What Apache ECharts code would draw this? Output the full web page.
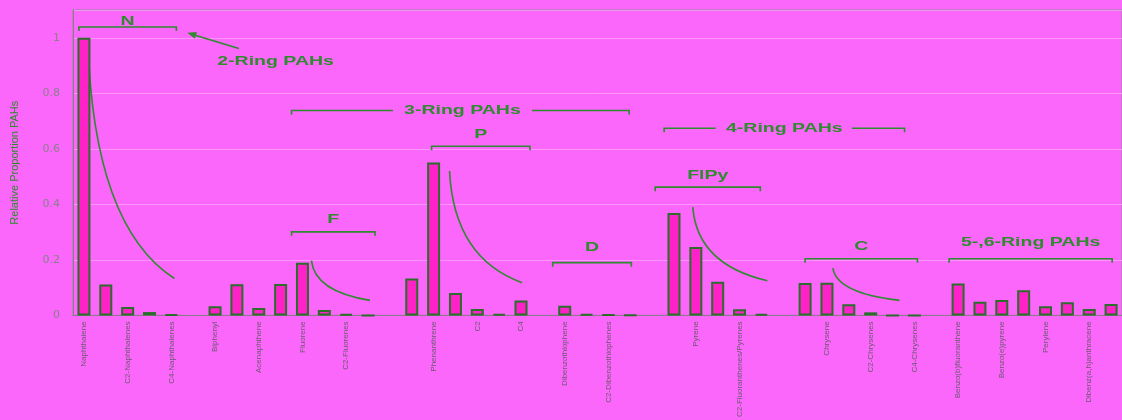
<!DOCTYPE html>
<html lang="en">
  <head>
    <meta charset="UTF-8" />
    <title>Relative Proportion PAHs</title>
    <style>
      html, body { margin: 0; padding: 0; background: #fb66fb; }
    </style>
  </head>
  <body>
    <div id="main" style="width: 1122px; height: 420px"></div>

    <script src="https://cdn.jsdelivr.net/npm/echarts@6/dist/echarts.min.js"></script>
    <script>
      // categories (empty strings are the gaps between groups)
      const categories = [
        'Naphthalene', 'C1-Naphthalenes', 'C2-Naphthalenes', 'C3-Naphthalenes', 'C4-Naphthalenes', '',
        'Biphenyl', 'Acenaphthylene', 'Acenaphthene', 'Dibenzofuran', 'Fluorene', 'C1-Fluorenes',
        'C2-Fluorenes', 'C3-Fluorenes', '', 'Anthracene', 'Phenanthrene', 'C1', 'C2', 'C3', 'C4', '',
        'Dibenzothiophene', 'C1-Dibenzothiophenes', 'C2-Dibenzothiophenes', 'C3-Dibenzothiophenes', '',
        'Fluoranthene', 'Pyrene', 'C1-Fluoranthenes/Pyrenes', 'C2-Fluoranthenes/Pyrenes', 'C3-Fluoranthenes/Pyrenes', '',
        'Benz(a)anthracene', 'Chrysene', 'C1-Chrysenes', 'C2-Chrysenes', 'C3-Chrysenes', 'C4-Chrysenes', '',
        'Benzo(b)fluoranthene', 'Benzo(k)fluoranthene', 'Benzo(e)pyrene', 'Benzo(a)pyrene', 'Perylene',
        'Indeno(1,2,3-cd)pyrene', 'Dibenz(a,h)anthracene', 'Benzo(g,h,i)perylene'
      ]
      const proportions = [
        1.0, 0.111, 0.03, 0.012, 0.003, null,
        0.033, 0.112, 0.027, 0.113, 0.19, 0.019,
        0.004, 0, null, 0.133, 0.551, 0.081, 0.023, 0.005, 0.054, null,
        0.035, 0.004, 0.002, 0.001, null,
        0.369, 0.246, 0.121, 0.022, 0.005, null,
        0.117, 0.118, 0.04, 0.011, 0, 0, null,
        0.115, 0.049, 0.055, 0.091, 0.033, 0.047, 0.023, 0.041
      ]
      const yTicks = [0, 0.2, 0.4, 0.6, 0.8, 1]

      // group brackets: [from, to, value, label, labelValue] (x in category index units)
      const brackets = [
        [-0.23, 4.23, 1.039, 'N', 1.06],
        [9.5, 13.32, 0.301, 'F', 0.344],
        [15.91, 20.41, 0.609, 'P', 0.652],
        [21.45, 25.05, 0.19, 'D', 0.244],
        [26.14, 30.95, 0.462, 'FlPy', 0.505],
        [33.0, 38.14, 0.204, 'C', 0.247],
        [39.59, 47.05, 0.204, '5-,6-Ring PAHs', 0.262]
      ]
      // ring-count spans with the label in the middle: [from, leftEnd, rightStart, to, value, label, labelX]
      const ringSpans = [
        [9.5, 14.14, 20.5, 24.95, 0.738, '3-Ring PAHs', 17.32],
        [26.55, 28.91, 35.14, 37.55, 0.674, '4-Ring PAHs', 32.05]
      ]
      // decay curves: [fromX, fromValue, toX, toValue]
      const curves = [
        [0.18, 0.993, 4.14, 0.133],
        [10.41, 0.197, 13.09, 0.054],
        [16.73, 0.52, 20.05, 0.118],
        [27.86, 0.39, 31.27, 0.125],
        [34.27, 0.17, 37.32, 0.054]
      ]
      // arrow to "2-Ring PAHs": [headX, headValue, tailX, tailValue, labelX, labelValue]
      const ringArrow = [4.73, 1.018, 7.09, 0.961, 8.77, 0.914, '2-Ring PAHs']

      const green = '#2e8b2e'
      const chart = echarts.init(document.querySelector('#main'))

      chart.setOption({
        backgroundColor: '#fb66fb',
        animation: false,
        grid: {
          left: 73, right: -7, top: 10, bottom: 103,
          show: true, borderColor: '#9a86a0', borderWidth: 1, backgroundColor: 'transparent'
        },
        xAxis: [
          {
            type: 'category',
            data: categories,
            axisLine: { lineStyle: { color: '#8a7a8a' } },
            axisTick: { interval: 1, length: 3, lineStyle: { color: '#8a7a8a' } },
            axisLabel: {
              interval: 1, rotate: 90, fontSize: 8, color: '#6a5a6e', margin: 6,
              fontFamily: 'Liberation Sans'
            }
          },
          // helper axis for placing annotations by category position
          { type: 'value', min: -0.5, max: categories.length - 0.5, show: false }
        ],
        yAxis: {
          type: 'value',
          min: 0, max: 1.1, interval: 0.2,
          name: 'Relative Proportion PAHs',
          nameLocation: 'middle',
          nameGap: 53,
          nameTextStyle: { color: green, fontSize: 11, fontFamily: 'Liberation Sans' },
          axisLine: { show: true, onZero: false, lineStyle: { color: '#8a7a8a' } },
          axisTick: { show: false },
          axisLabel: {
            color: '#8a7f8a', fontSize: 11, margin: 13, fontFamily: 'DejaVu Sans',
            showMaxLabel: false,
            formatter: v => (yTicks.some(t => Math.abs(t - v) < 1e-6) ? String(+v.toFixed(1)) : '')
          },
          splitLine: { lineStyle: { color: 'rgba(255,190,255,0.55)' } }
        },
        series: [
          {
            type: 'bar',
            xAxisIndex: 0,
            data: proportions,
            barWidth: 13,
            itemStyle: { color: '#ff22c8', borderColor: '#2b6e2b', borderWidth: 2 }
          }
        ]
      })

      // annotations, placed through the axes
      const px = (x, v) => chart.convertToPixel({ xAxisIndex: 1, yAxisIndex: 0 }, [x, v])
      const lineStyle = { stroke: green, lineWidth: 1.6, fill: null }
      const textStyle = (text) => ({
        text, fill: green, fontSize: 13, fontWeight: 'bold', fontFamily: 'Liberation Sans',
        align: 'center', verticalAlign: 'middle'
      })
      const graphic = []
      const label = (text, x, v) => {
        const p = px(x, v)
        graphic.push({ type: 'text', x: p[0], y: p[1], scaleX: 1.5, style: textStyle(text), z: 10 })
      }

      brackets.forEach(([a, b, v, text, lv]) => {
        const p1 = px(a, v)
        const p2 = px(b, v)
        graphic.push({
          type: 'polyline',
          shape: { points: [[p1[0], p1[1] + 4], p1, p2, [p2[0], p2[1] + 4]] },
          style: lineStyle
        })
        label(text, (a + b) / 2, lv)
      })

      ringSpans.forEach(([a, b, c, d, v, text, lx]) => {
        const pa = px(a, v), pb = px(b, v), pc = px(c, v), pd = px(d, v)
        graphic.push({ type: 'polyline', shape: { points: [[pa[0], pa[1] + 4], pa, pb] }, style: lineStyle })
        graphic.push({ type: 'polyline', shape: { points: [pc, pd, [pd[0], pd[1] + 4]] }, style: lineStyle })
        label(text, lx, v)
      })

      curves.forEach(([x0, v0, x1, v1]) => {
        const s = px(x0, v0)
        const e = px(x1, v1)
        graphic.push({
          type: 'bezierCurve',
          shape: {
            x1: s[0], y1: s[1], x2: e[0], y2: e[1],
            cpx1: s[0] + 0.06 * (e[0] - s[0]), cpy1: s[1] + 0.78 * (e[1] - s[1])
          },
          style: lineStyle
        })
      })

      {
        const [hx, hv, tx, tv, lx, lv, text] = ringArrow
        const h = px(hx, hv)
        const t = px(tx, tv)
        const ang = Math.atan2(t[1] - h[1], t[0] - h[0])
        const len = 9, wid = 3.5
        const bx = h[0] + len * Math.cos(ang), by = h[1] + len * Math.sin(ang)
        graphic.push({ type: 'line', shape: { x1: bx, y1: by, x2: t[0], y2: t[1] }, style: lineStyle })
        graphic.push({
          type: 'polygon',
          shape: {
            points: [
              h,
              [bx - wid * Math.sin(ang), by + wid * Math.cos(ang)],
              [bx + wid * Math.sin(ang), by - wid * Math.cos(ang)]
            ]
          },
          style: { fill: green }
        })
        label(text, lx, lv)
      }

      chart.setOption({ graphic })
    </script>
  </body>
</html>
